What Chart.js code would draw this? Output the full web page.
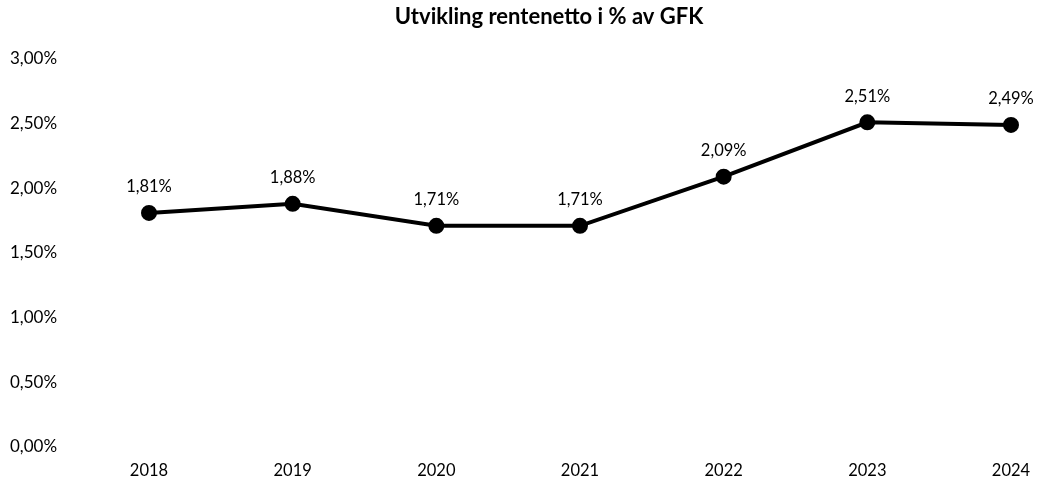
<!DOCTYPE html>
<html>
<head>
<meta charset="utf-8">
<script src="https://cdn.jsdelivr.net/npm/chart.js@4/dist/chart.umd.min.js"></script>
<style>
html,body{margin:0;padding:0;background:#fff;}
#wrap{width:1037px;height:481px;position:relative;}
</style>
</head>
<body>
<div id="wrap"><canvas id="c" width="1037" height="481"></canvas></div>
<script>
const chartTitle = 'Utvikling rentenetto i % av GFK';
const years = ['2018','2019','2020','2021','2022','2023','2024'];
const renteNetto = [1.81, 1.88, 1.71, 1.71, 2.09, 2.51, 2.49];
const yMin = 0, yMax = 3, yStep = 0.5;

const FONT = 'Lato, "Open Sans", sans-serif';
const fmt = v => v.toFixed(2).replace('.', ',') + '%';

const titlePlugin = {
  id: 'customTitle',
  afterDraw(chart) {
    const ctx = chart.ctx;
    ctx.save();
    ctx.font = 'bold 22px ' + FONT;
    ctx.fillStyle = '#000';
    ctx.textAlign = 'center';
    ctx.textBaseline = 'middle';
    ctx.fillText(chartTitle, 549, 17);
    ctx.restore();
  }
};

const labelPlugin = {
  id: 'pointLabels',
  afterDatasetsDraw(chart) {
    const ctx = chart.ctx;
    const meta = chart.getDatasetMeta(0);
    ctx.save();
    ctx.font = '16.5px ' + FONT;
    ctx.fillStyle = '#000';
    ctx.textAlign = 'center';
    ctx.textBaseline = 'middle';
    meta.data.forEach((pt, i) => {
      ctx.fillText(fmt(chart.data.datasets[0].data[i]), pt.x, pt.y - 26);
    });
    ctx.restore();
  }
};

new Chart(document.getElementById('c'), {
  type: 'line',
  data: {
    labels: years,
    datasets: [{
      data: renteNetto,
      borderColor: '#000',
      backgroundColor: '#000',
      borderWidth: 4,
      pointRadius: 6,
      pointHoverRadius: 6,
      pointBackgroundColor: '#000',
      pointBorderColor: '#000',
      tension: 0
    }]
  },
  options: {
    responsive: false,
    animation: false,
    devicePixelRatio: 1,
    layout: { padding: { top: 59, left: 10, right: 26, bottom: 0 } },
    plugins: { legend: { display: false }, title: { display: false }, tooltip: { enabled: false } },
    scales: {
      x: {
        offset: false,
        grid: { display: false, drawTicks: false },
        border: { display: false },
        ticks: { color: '#000', font: { family: FONT, size: 16.5 }, padding: 14, maxRotation: 0 },
        afterFit(s) { s.height = 34; s.paddingLeft = 0; s.paddingRight = 0; }
      },
      y: {
        min: yMin, max: yMax,
        grid: { display: false, drawTicks: false },
        border: { display: false },
        ticks: { stepSize: yStep, color: '#000', font: { family: FONT, size: 17 }, crossAlign: 'far', padding: 0, callback: v => fmt(v) },
        afterFit(s) { s.width = 139; s.paddingTop = 0; s.paddingBottom = 0; }
      }
    }
  },
  plugins: [titlePlugin, labelPlugin]
});
</script>
</body>
</html>
